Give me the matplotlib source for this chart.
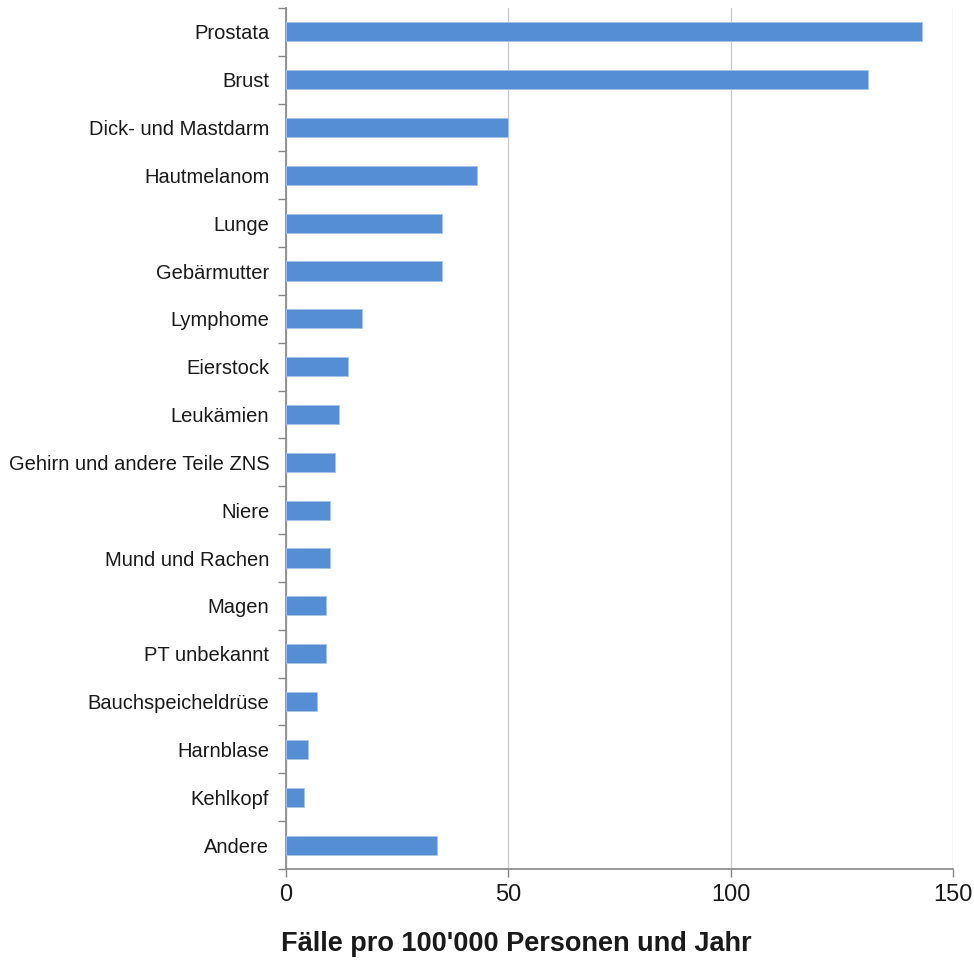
import numpy as np
from matplotlib import pyplot as plt

plt.rcParams['font.family'] = ['Liberation Sans', 'DejaVu Sans']

categories = ['Prostata', 'Brust', 'Dick- und Mastdarm', 'Hautmelanom', 'Lunge',
              'Gebärmutter', 'Lymphome', 'Eierstock', 'Leukämien',
              'Gehirn und andere Teile ZNS', 'Niere', 'Mund und Rachen', 'Magen',
              'PT unbekannt', 'Bauchspeicheldrüse', 'Harnblase', 'Kehlkopf', 'Andere']
values = [143, 131, 50, 43, 35, 35, 17, 14, 12, 11, 10, 10, 9, 9, 7, 5, 4, 34]
x_ticks = [0, 50, 100, 150]

axis_grey = '#868686'

fig = plt.figure(figsize=(9.74, 9.6), dpi=100)
ax = fig.add_axes([0.2936, 0.0948, 0.9784 - 0.2936, 0.9917 - 0.0948])

y = np.arange(len(categories))[::-1]
ax.barh(y, values, height=0.4, color='#558ed5', edgecolor='#a9c4ea', linewidth=0.6, zorder=3)

ax.set_xlim(0, 150)
ax.set_ylim(-0.5, len(categories) - 0.5)

# labels at bar centres, tick marks between categories
ax.set_yticks(y)
ax.set_yticklabels(categories, fontsize=14.5, color='#1a1a1a')
ax.tick_params(axis='y', which='major', length=0, pad=12)
ax.set_yticks(np.arange(-0.5, len(categories)), minor=True)
ax.tick_params(axis='y', which='minor', length=6, width=1, color=axis_grey, direction='out')

ax.set_xticks(x_ticks)
ax.set_xticklabels([str(t) for t in x_ticks], fontsize=17, color='#1a1a1a')
ax.tick_params(axis='x', length=6, width=1, color=axis_grey, direction='out', pad=5)
ax.grid(axis='x', color='#cccccc', linewidth=1, zorder=0)

for side in ['top', 'right']:
    ax.spines[side].set_visible(False)
for side in ['left', 'bottom']:
    ax.spines[side].set_color(axis_grey)
    ax.spines[side].set_linewidth(1.2)

fig.text(0.53, 0.017, "Fälle pro 100'000 Personen und Jahr", fontsize=19.5,
         fontweight='bold', ha='center', va='center', color='#1a1a1a')

plt.savefig('out.png', dpi=100)
